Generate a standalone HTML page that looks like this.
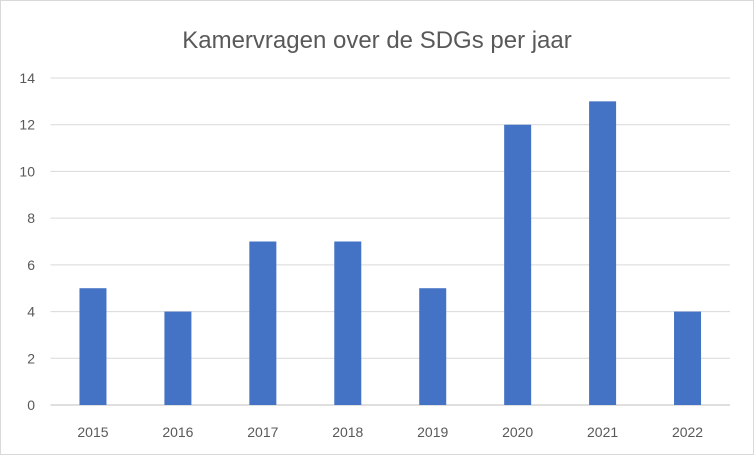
<!DOCTYPE html>
<html><head><meta charset="utf-8"><style>
body{margin:0;background:#fff;}
svg{display:block;font-family:"Liberation Sans",Calibri,sans-serif;}
</style></head><body>
<svg id="chart" width="754" height="455" xmlns="http://www.w3.org/2000/svg">
<rect x="0.5" y="0.5" width="753" height="454" fill="#fff" stroke="#d9d9d9"/>
<text x="377" y="48" text-anchor="middle" font-size="24" fill="#595959">Kamervragen over de SDGs per jaar</text>
<g id="grid"></g><g id="bars"></g><g id="xl"></g><g id="yl"></g>
</svg>
<script>
const categories=["2015","2016","2017","2018","2019","2020","2021","2022"];
const values=[5,4,7,7,5,12,13,4];
const yTicks=[0,2,4,6,8,10,12,14];
const NS="http://www.w3.org/2000/svg";
const x0=50.5,x1=730,y0=405,y1=78,yMax=14;
const band=(x1-x0)/categories.length;
const xs=i=>x0+band*(i+0.5);
const ys=v=>y0-(v/yMax)*(y0-y1);
function mk(t,a,p){const e=document.createElementNS(NS,t);for(const k in a)e.setAttribute(k,a[k]);p.appendChild(e);return e;}
const grid=document.getElementById('grid'),bars=document.getElementById('bars'),xl=document.getElementById('xl'),yl=document.getElementById('yl');
yTicks.forEach(t=>{
 const l=mk('line',{x1:x0,x2:x1,y1:ys(t),y2:ys(t),stroke:t===0?'#bfbfbf':'#d9d9d9','stroke-width':1},grid);
 
 
 const tx=mk('text',{x:35,y:ys(t)+5,'text-anchor':'end','font-size':14,fill:'#595959'},yl);
 tx.textContent=t;
 
 
});
categories.forEach((c,i)=>{
 const w=27;
 const r=mk('rect',{x:xs(i)-w/2,y:ys(values[i]),width:w,height:y0-ys(values[i]),fill:'#4472c4'},bars);
 
 
 const tx=mk('text',{x:xs(i),y:437,'text-anchor':'middle','font-size':14,fill:'#595959'},xl);
 tx.textContent=c;
 
 
});
</script>
</body></html>
